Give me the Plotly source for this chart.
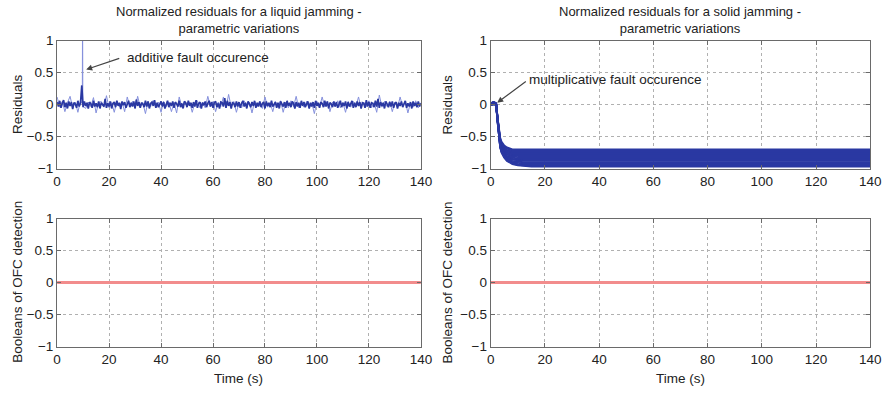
import plotly.graph_objects as go

# ---------------- data ----------------
# Liquid jamming: dark residual run sampled every 0.5 s (0..140 s)
t_liquid_dark = [i * 0.5 for i in range(281)]
res_liquid_dark = [
    0.04,-0.03,0.06,-0.05,0.02,0.07,-0.04,0.03,-0.06,0.05,-0.02,0.04,-0.07,0.03,0.01,-0.05,0.06,-0.03,0.02,0.30,
    -0.04,0.05,-0.02,0.03,-0.06,0.04,0.01,-0.05,0.06,-0.03,0.02,-0.04,0.05,-0.06,0.03,0.00,-0.03,0.09,-0.05,0.02,
    -0.03,0.05,-0.06,0.02,0.04,-0.04,0.06,-0.02,0.03,-0.07,0.05,-0.01,0.04,-0.05,0.02,0.06,-0.04,0.03,-0.03,0.05,
    -0.06,0.08,-0.02,0.04,-0.05,0.03,0.01,-0.04,0.06,-0.03,0.05,-0.06,0.02,0.04,-0.02,0.07,-0.05,0.03,-0.04,0.02,
    0.05,-0.03,0.04,-0.06,0.02,0.06,-0.04,0.03,-0.02,0.05,-0.05,0.04,0.01,-0.03,0.06,-0.04,0.02,-0.06,0.05,0.03,
    -0.04,0.06,-0.02,0.03,-0.05,0.04,-0.03,0.07,-0.05,0.02,0.04,-0.06,0.03,-0.01,0.05,-0.04,0.02,0.06,-0.03,0.04,
    -0.05,0.03,0.05,-0.04,0.02,-0.06,0.04,0.03,-0.03,0.10,-0.05,0.06,-0.02,0.04,-0.06,0.03,0.02,-0.04,0.05,-0.03,
    0.04,-0.05,0.02,0.06,-0.03,0.03,-0.06,0.05,0.01,-0.04,0.04,-0.02,0.06,-0.05,0.03,-0.03,0.05,-0.04,0.02,0.04,
    -0.06,0.05,-0.02,0.03,-0.04,0.06,-0.03,0.02,0.04,-0.05,0.03,-0.06,0.05,0.01,-0.03,0.04,-0.05,0.06,-0.02,0.03,
    -0.04,0.05,0.02,-0.06,0.04,-0.03,0.03,-0.05,0.06,-0.02,0.04,-0.04,0.02,0.05,-0.06,0.03,-0.03,0.04,-0.05,0.06,
    -0.02,0.03,-0.05,0.04,0.02,-0.04,0.06,-0.03,0.05,-0.06,0.03,0.01,-0.04,0.05,-0.03,0.04,-0.05,0.02,0.06,-0.04,
    0.03,-0.02,0.05,-0.06,0.04,-0.03,0.02,0.06,-0.05,0.03,-0.04,0.05,-0.02,0.04,-0.06,0.03,0.02,-0.05,0.07,-0.03,
    0.04,-0.05,0.03,0.02,-0.04,0.06,-0.03,0.09,-0.05,0.04,-0.02,0.03,-0.06,0.05,0.01,-0.04,0.04,-0.03,0.05,-0.05,
    0.02,0.04,-0.06,0.03,-0.02,0.05,-0.04,0.03,0.06,-0.05,0.02,-0.03,0.04,-0.06,0.05,-0.02,0.03,-0.04,0.05,-0.03,
    0.02,
]

# Liquid jamming: lighter residual run (1 s sampling, plus the additive fault spike near 9.8 s)
t_liquid_light = list(range(0, 10)) + [9.7, 9.8, 9.9] + list(range(10, 141))
res_liquid_light = [
    0.12,-0.04,0.05,-0.11,0.03,0.13,-0.05,0.04,-0.12,0.06,
    0.02,1.60,0.02,
    -0.03,-0.06,0.04,-0.03,0.11,-0.13,0.03,0.05,-0.04,0.14,
    -0.05,0.03,-0.12,0.05,-0.03,0.04,-0.11,0.12,-0.03,0.05,-0.06,0.13,-0.04,0.03,-0.14,0.05,-0.03,0.06,-0.05,0.04,
    -0.12,0.05,-0.03,0.04,-0.11,0.03,-0.13,0.12,-0.04,0.05,-0.03,0.04,-0.12,0.03,0.06,-0.05,0.04,-0.05,0.13,-0.03,
    0.05,-0.11,0.04,-0.03,0.12,-0.05,0.16,-0.04,0.05,-0.12,0.03,-0.05,0.06,-0.03,0.04,-0.13,0.05,-0.03,0.05,-0.06,
    0.12,-0.04,0.03,-0.11,0.05,-0.03,0.06,-0.12,0.04,-0.05,0.06,-0.03,0.13,-0.05,0.03,-0.04,0.05,-0.06,0.03,-0.14,
    0.05,-0.04,0.12,-0.03,0.05,-0.11,0.04,-0.03,0.06,-0.05,0.03,-0.12,0.05,-0.04,0.05,-0.03,0.12,-0.05,0.04,-0.03,
    0.06,-0.05,0.03,-0.12,0.15,-0.04,0.05,-0.03,0.05,-0.11,0.04,-0.05,0.12,-0.03,0.05,-0.13,0.03,-0.04,0.06,-0.05,
    0.03,
]

# Solid jamming: bundle of residual runs (parametric variations)
t_solid = [0, 0.5, 1, 1.5, 2, 2.5, 3, 3.5, 4, 5, 6, 7, 8, 10, 12, 15, 20, 140]
res_solid_runs = [
    [0.02,0.03,0.04,0.03,0.02,-0.20,-0.40,-0.52,-0.58,-0.64,-0.67,-0.69,-0.70,-0.70,-0.70,-0.70,-0.70,-0.70],
    [0.02,0.03,0.04,0.03,0.02,-0.21,-0.42,-0.54,-0.60,-0.66,-0.69,-0.71,-0.72,-0.72,-0.72,-0.72,-0.72,-0.72],
    [0.02,0.02,0.04,0.03,0.02,-0.22,-0.43,-0.56,-0.62,-0.68,-0.71,-0.73,-0.74,-0.74,-0.74,-0.74,-0.74,-0.74],
    [0.01,0.02,0.04,0.03,0.01,-0.22,-0.44,-0.57,-0.64,-0.70,-0.73,-0.75,-0.76,-0.76,-0.76,-0.76,-0.76,-0.76],
    [0.01,0.02,0.03,0.03,0.01,-0.23,-0.45,-0.58,-0.65,-0.72,-0.75,-0.77,-0.78,-0.78,-0.78,-0.78,-0.78,-0.78],
    [0.01,0.02,0.03,0.03,0.01,-0.23,-0.46,-0.59,-0.66,-0.73,-0.77,-0.79,-0.80,-0.80,-0.80,-0.80,-0.80,-0.80],
    [0.01,0.01,0.03,0.02,0.01,-0.24,-0.47,-0.60,-0.67,-0.74,-0.78,-0.80,-0.81,-0.82,-0.82,-0.82,-0.82,-0.82],
    [0.01,0.01,0.03,0.02,0.01,-0.24,-0.48,-0.61,-0.68,-0.76,-0.80,-0.82,-0.83,-0.84,-0.84,-0.84,-0.84,-0.84],
    [0.00,0.01,0.02,0.02,0.00,-0.25,-0.48,-0.62,-0.69,-0.77,-0.81,-0.83,-0.85,-0.86,-0.86,-0.86,-0.86,-0.86],
    [0.00,0.01,0.02,0.02,0.00,-0.25,-0.49,-0.63,-0.70,-0.78,-0.82,-0.85,-0.86,-0.87,-0.88,-0.88,-0.88,-0.88],
    [0.00,0.00,0.02,0.01,0.00,-0.26,-0.50,-0.64,-0.71,-0.79,-0.84,-0.86,-0.88,-0.89,-0.90,-0.90,-0.90,-0.90],
    [0.00,0.00,0.02,0.01,0.00,-0.26,-0.50,-0.65,-0.72,-0.80,-0.85,-0.88,-0.90,-0.91,-0.92,-0.92,-0.92,-0.92],
    [0.00,0.00,0.01,0.01,-0.01,-0.27,-0.51,-0.66,-0.73,-0.81,-0.86,-0.89,-0.91,-0.93,-0.94,-0.94,-0.94,-0.94],
    [0.00,0.00,0.01,0.01,-0.01,-0.27,-0.52,-0.66,-0.74,-0.82,-0.87,-0.90,-0.92,-0.94,-0.95,-0.96,-0.96,-0.96],
    [0.00,0.00,0.01,0.00,-0.01,-0.28,-0.52,-0.67,-0.75,-0.83,-0.88,-0.91,-0.93,-0.95,-0.96,-0.97,-0.97,-0.97],
]

# Booleans of OFC detection (no detection in both cases)
t_bool = [0, 140]
bool_liquid = [0, 0]
bool_solid = [0, 0]

x_ticks = [0, 20, 40, 60, 80, 100, 120, 140]
y_ticks = [-1, -0.5, 0, 0.5, 1]
y_tick_text = ["\u22121", "\u22120.5", "0", "0.5", "1"]

titles = ["Normalized residuals for a liquid jamming -<br>parametric variations",
          "Normalized residuals for a solid jamming -<br>parametric variations"]

# ---------------- figure ----------------
DARK = "#2a38a2"
LIGHT = "#8590dc"
RED = "#f28c8c"

fig = go.Figure()

fig.add_trace(go.Scatter(x=t_liquid_light, y=res_liquid_light, mode="lines",
                         line=dict(color=LIGHT, width=1), xaxis="x", yaxis="y", showlegend=False))
fig.add_trace(go.Scatter(x=t_liquid_dark, y=res_liquid_dark, mode="lines",
                         line=dict(color=DARK, width=1.7), xaxis="x", yaxis="y", showlegend=False))
for run in res_solid_runs:
    fig.add_trace(go.Scatter(x=t_solid, y=run, mode="lines",
                             line=dict(color=DARK, width=1.9), xaxis="x2", yaxis="y2", showlegend=False))
fig.add_trace(go.Scatter(x=t_bool, y=bool_liquid, mode="lines",
                         line=dict(color=RED, width=3), xaxis="x3", yaxis="y3", showlegend=False))
fig.add_trace(go.Scatter(x=t_bool, y=bool_solid, mode="lines",
                         line=dict(color=RED, width=3), xaxis="x4", yaxis="y4", showlegend=False))

W, H = 895, 393
def fx(px): return px / W
def fy(py): return 1 - py / H

dom_x = [[fx(54), fx(424)], [fx(495), fx(881)]]
dom_y_top = [fy(168), fy(35)]
dom_y_bot = [fy(353), fy(220)]

FONT = "Liberation Sans, Arial"
axis_common = dict(showline=True, linecolor="#6a6a6a", linewidth=1, mirror="ticks",
                   ticks="inside", ticklen=4, tickcolor="#6a6a6a",
                   showgrid=True, gridcolor="#b0b0b0", griddash="dot", gridwidth=1,
                   zeroline=False, tickfont=dict(family=FONT, size=13.5, color="#222"))

layout = dict(width=W, height=H, margin=dict(l=0, r=0, t=0, b=0),
              plot_bgcolor="white", paper_bgcolor="white", showlegend=False)

for xa, ya, xd, yd, anchor_x, anchor_y in [
        ("xaxis", "yaxis", dom_x[0], dom_y_top, "y", "x"),
        ("xaxis2", "yaxis2", dom_x[1], dom_y_top, "y2", "x2"),
        ("xaxis3", "yaxis3", dom_x[0], dom_y_bot, "y3", "x3"),
        ("xaxis4", "yaxis4", dom_x[1], dom_y_bot, "y4", "x4")]:
    layout[xa] = dict(domain=xd, anchor=anchor_x, range=[0, 140], tickvals=x_ticks, **axis_common)
    layout[ya] = dict(domain=yd, anchor=anchor_y, range=[-1, 1], tickvals=y_ticks,
                      ticktext=y_tick_text, **axis_common)

fig.update_layout(**layout)

font_lbl = dict(family=FONT, size=13.5, color="#222")
font_title = dict(family=FONT, size=13, color="#222")
ann = []
# titles
ann.append(dict(x=fx(239), y=fy(13.5), xref="paper", yref="paper", text=titles[0], showarrow=False,
                xanchor="center", yanchor="middle", font=font_title))
ann.append(dict(x=fx(688), y=fy(13.5), xref="paper", yref="paper", text=titles[1], showarrow=False,
                xanchor="center", yanchor="middle", font=font_title))
# y titles
for xp, yc, txt in [(13, 101, "Residuals"), (451, 101, "Residuals"),
                    (13, 286, "Booleans of OFC detection"), (451, 286, "Booleans of OFC detection")]:
    ann.append(dict(x=fx(xp), y=fy(yc), xref="paper", yref="paper", text=txt, showarrow=False,
                    textangle=-90, xanchor="center", yanchor="middle", font=font_lbl))
# x titles
for xc in (239, 688):
    ann.append(dict(x=fx(xc), y=fy(386), xref="paper", yref="paper", text="Time (s)", showarrow=False,
                    xanchor="center", yanchor="middle", font=font_lbl))
# arrows
ann.append(dict(x=11.2, y=0.55, xref="x", yref="y", ax=24.5, ay=0.73, axref="x", ayref="y",
                showarrow=True, arrowhead=2, arrowsize=1, arrowwidth=1.2, arrowcolor="#444", text=""))
ann.append(dict(x=26, y=0.73, xref="x", yref="y", text="additive fault occurence", showarrow=False,
                xanchor="left", yanchor="middle", font=font_lbl))
ann.append(dict(x=2.4, y=0.03, xref="x2", yref="y2", ax=13.5, ay=0.38, axref="x2", ayref="y2",
                showarrow=True, arrowhead=2, arrowsize=1, arrowwidth=1.2, arrowcolor="#444", text=""))
ann.append(dict(x=13.3, y=0.39, xref="x2", yref="y2", text="multiplicative fault occurence", showarrow=False,
                xanchor="left", yanchor="middle", font=font_lbl))
fig.update_layout(annotations=ann)

fig.write_html("out.html")
